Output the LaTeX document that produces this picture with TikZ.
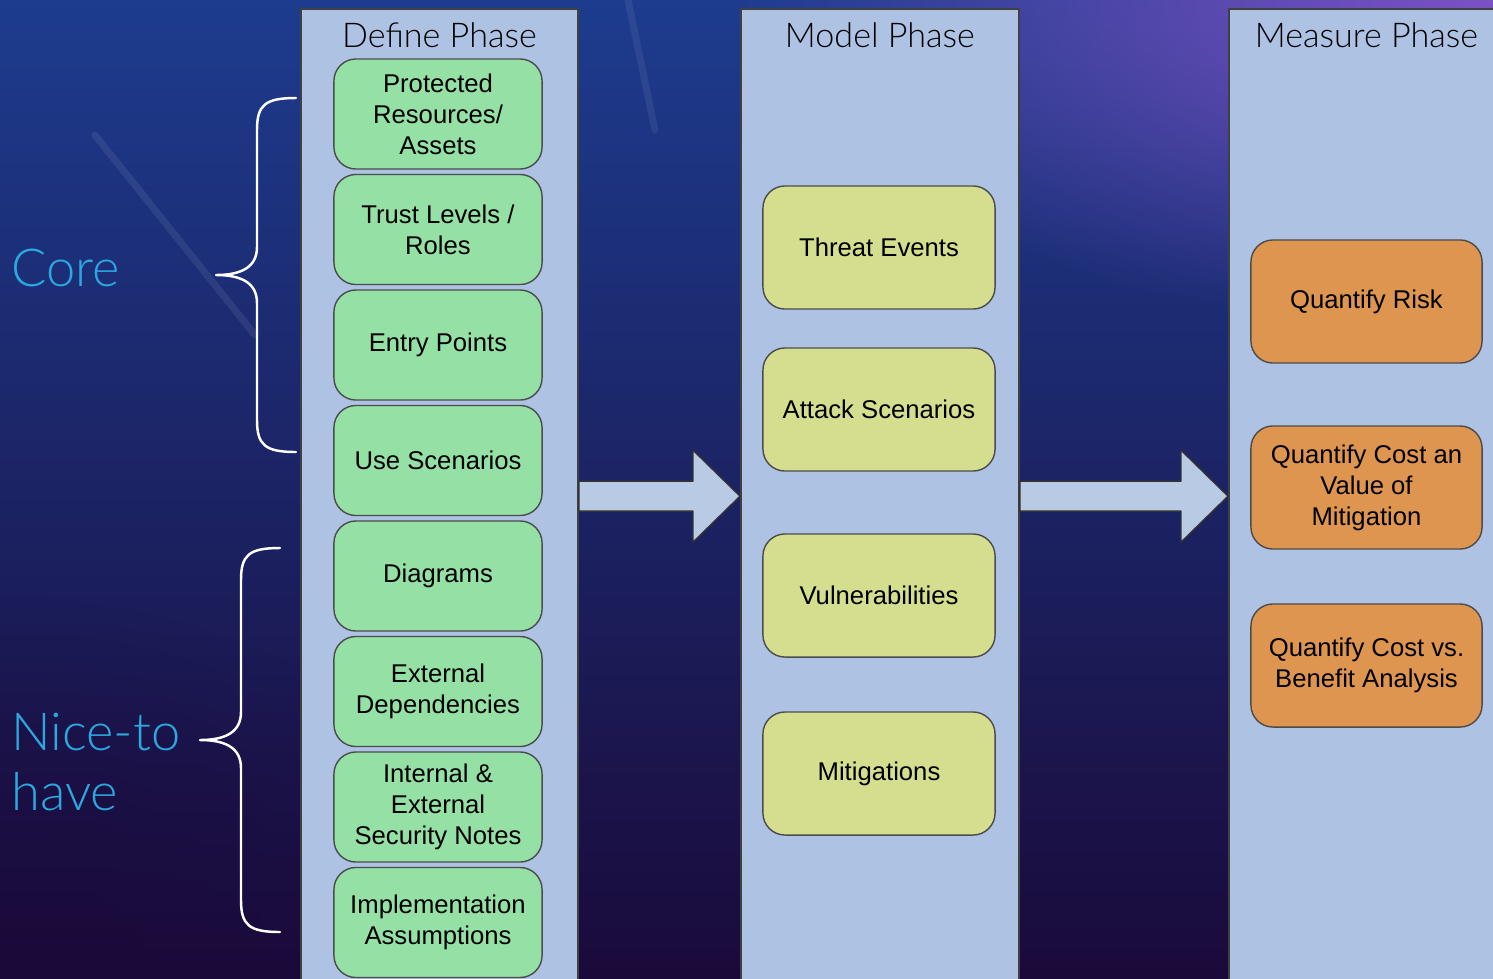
\documentclass[tikz,border=0pt]{standalone}
\usepackage{fontspec}
\setmainfont{Liberation Sans}
\newfontfamily\lightfont{Lato Light}
\usetikzlibrary{positioning,calc,fadings}
\definecolor{phasefill}{HTML}{AEC2E4}
\definecolor{arrowfill}{HTML}{B8CAE4}
\definecolor{definefill}{HTML}{95E0A5}
\definecolor{modelfill}{HTML}{D4DE8E}
\definecolor{measurefill}{HTML}{DE9550}
\definecolor{bracetext}{HTML}{2CA8E0}
\definecolor{bgtop}{HTML}{1D3C8E}
\definecolor{bgbottom}{HTML}{1A0A3A}
\definecolor{bgviolet}{HTML}{7C52C4}
\tikzfading[name=glow, inner color=transparent!0, outer color=transparent!100]
\begin{document}
\begin{tikzpicture}[x=0.01cm, y=-0.01cm, font=\fontsize{7.3}{8.8}\selectfont, line join=round, line cap=round]
	\tikzset{phase/.style={draw=black!75, line width=0.5pt, fill=phasefill, anchor=north west, minimum height=9.74cm, inner sep=0pt},
		phasetitle/.style={font=\lightfont\fontsize{9.7}{11}\selectfont, text=black},
		item/.style={draw=black!70, line width=0.4pt, rounded corners=0.22cm, align=center, inner sep=0pt},
		defbox/.style={item, fill=definefill, minimum width=2.08cm, minimum height=1.10cm},
		modbox/.style={item, fill=modelfill, minimum width=2.32cm, minimum height=1.23cm},
		measbox/.style={item, fill=measurefill, minimum width=2.31cm, minimum height=1.23cm},
		flow/.style={draw=black!80, line width=0.4pt, fill=arrowfill},
		bracket/.style={draw=white, line width=0.7pt},
		bracelabel/.style={font=\lightfont\fontsize{14.9}{17}\selectfont, text=bracetext, align=left, anchor=west},
		curly/.pic={
			\draw[bracket] (80,-#1) .. controls (49,-#1) and (41,{-#1+7}) .. (41,{-#1+32}) -- (41,-28) .. controls (41,-7) and (24,0) .. (0,0) .. controls (24,0) and (41,7) .. (41,28) -- (41,{#1-32}) .. controls (41,{#1-7}) and (49,#1) .. (80,#1);
		}}
	\clip (0,0) rectangle (1493,978);
	% background
	\shade[top color=bgtop, bottom color=bgbottom] (0,0) rectangle (1493,978);
	\fill[bgviolet, path fading=glow] (1493,0) ellipse (760 and 330);
	\fill[bgbottom, path fading=glow, opacity=0.7] (0,978) ellipse (520 and 380);
	\draw[white, opacity=0.08, line width=2pt] (95,135) -- (255,335);
	\draw[white, opacity=0.07, line width=2pt] (628,0) -- (655,130);
	% phases
	\node[phase, minimum width=2.77cm] (define) at (300,8) {};
	\node[phase, minimum width=2.78cm] (model) at (740,8) {};
	\node[phase, minimum width=3.0cm] (measure) at (1228,8) {};
	% arrows between phases
	\draw[flow] ($(define.east)+(0,-15)$) -- ($(model.west)+(-47,-15)$) -- ($(model.west)+(-47,-46)$) -- (model.west) -- ($(model.west)+(-47,46)$) -- ($(model.west)+(-47,15)$) -- ($(define.east)+(0,15)$) -- cycle;
	\draw[flow] ($(model.east)+(0,-15)$) -- ($(measure.west)+(-47,-15)$) -- ($(measure.west)+(-47,-46)$) -- (measure.west) -- ($(measure.west)+(-47,46)$) -- ($(measure.west)+(-47,15)$) -- ($(model.east)+(0,15)$) -- cycle;
	% define phase
	\foreach \txt [count=\i from 0] in {{Protected\\Resources/\\Assets}, {Trust Levels /\\Roles}, {Entry Points}, {Use Scenarios}, {Diagrams}, {External\\Dependencies}, {Internal \&\\External\\Security Notes}, {Implementation\\Assumptions}}
		\node[defbox] (d\i) at (438,{114+115.5*\i}) {\txt};
	% model phase
	\node[modbox] (m1) at (879,247.5) {Threat Events};
	\node[modbox] (m2) at (879,409.5) {Attack Scenarios};
	\node[modbox] (m3) at (879,595.5) {Vulnerabilities};
	\node[modbox] (m4) at (879,773.5) {Mitigations};
	% measure phase
	\node[measbox] (q1) at (1366.5,301.5) {Quantify Risk};
	\node[measbox] (q2) at (1366.5,487.5) {Quantify Cost an\\Value of\\Mitigation};
	\node[measbox] (q3) at (1366.5,665.5) {Quantify Cost vs.\\Benefit Analysis};
	% titles
	\node[phasetitle] (definetitle) at (define.north |- 0,35) {Define Phase};
	\node[phasetitle] (modeltitle) at (model.north |- 0,35) {Model Phase};
	\node[phasetitle] (measuretitle) at (q1.north |- 0,35) {Measure Phase};
	% braces
	\path (216,275) pic{curly=177};
	\path (200,740) pic{curly=192};
	\node[bracelabel] (core) at (-1,268) {Core};
	\node[bracelabel] (nice) at (-1,762) {Nice-to\\have};
\end{tikzpicture}
\end{document}
